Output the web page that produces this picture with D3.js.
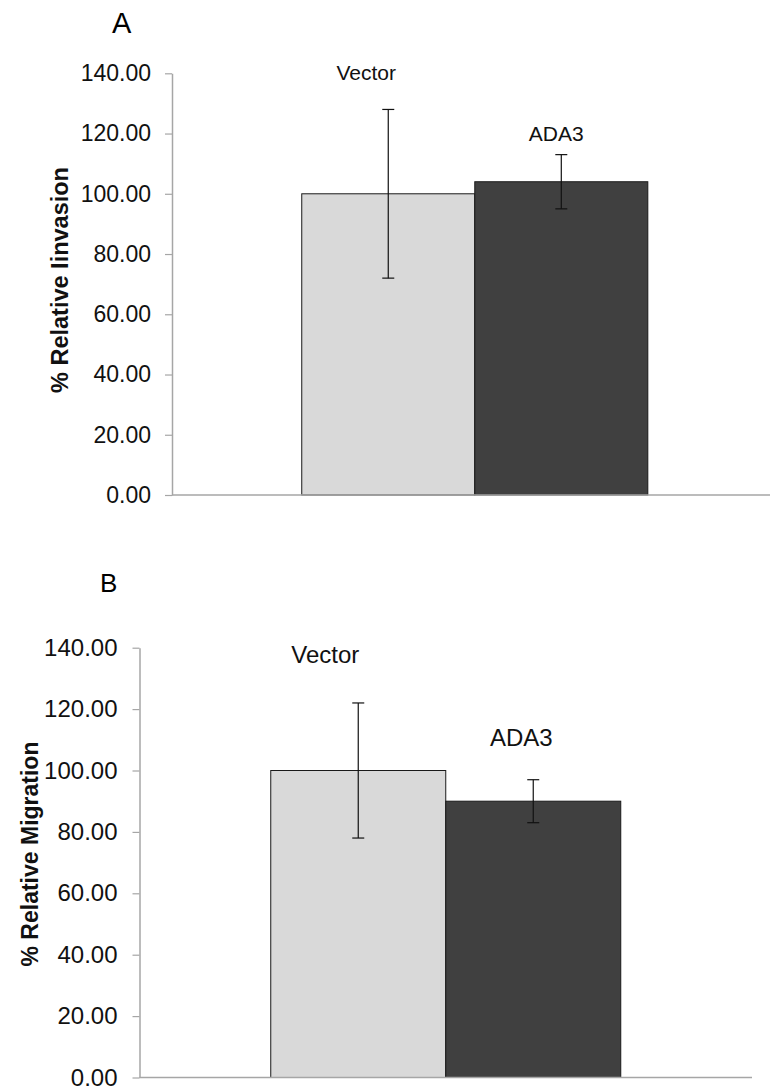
<!DOCTYPE html>
<html>
<head>
<meta charset="utf-8">
<script src="https://cdn.jsdelivr.net/npm/d3@7"></script>
<style>
  body { margin: 0; background: #fff; }
  svg { display: block; font-family: "Liberation Sans", Arial, sans-serif; }
</style>
</head>
<body>
<div id="chart"></div>
<script>
// data
var groups = ["Vector", "ADA3"];
var invasionMean = [100, 104];
var invasionErr = [28, 9];
var migrationMean = [100, 90];
var migrationErr = [22, 7];
var yTicks = [0, 20, 40, 60, 80, 100, 120, 140];
var barColors = ["#d9d9d9", "#404040"];

var svg = d3.select("#chart").append("svg")
    .attr("width", 770)
    .attr("height", 1091);

// one panel = one excel-ish bar chart
function drawPanel(p) {
    var y = d3.scaleLinear().domain([0, 140]).range([p.bottom, p.top]);
    var x = d3.scaleBand().domain(groups)
        .range([p.left, p.right])
        .paddingInner(0)
        .paddingOuter(p.outer)
        .align(p.align);

    var g = svg.append("g");

    // panel letter
    g.append("text")
        .attr("x", p.letterX).attr("y", p.letterY)
        .style("font-size", p.letterSize + "px")
        .text(p.letter);

    // bars
    g.selectAll("rect.bar")
        .data(groups)
        .enter()
        .append("rect")
        .attr("class", "bar")
        .attr("x", function (d) { return x(d); })
        .attr("y", function (d, i) { return y(p.mean[i]); })
        .attr("width", x.bandwidth())
        .attr("height", function (d, i) { return y(0) - y(p.mean[i]); })
        .style("fill", function (d, i) { return barColors[i]; })
        .style("stroke", "#1a1a1a")
        .style("stroke-width", 1);

    // y axis
    var yAxis = d3.axisLeft(y)
        .tickValues(yTicks)
        .tickSize(7)
        .tickSizeOuter(0)
        .tickPadding(p.tickPad)
        .tickFormat(d3.format(".2f"));

    var ya = g.append("g")
        .attr("transform", "translate(" + p.left + ",0)")
        .call(yAxis);
    ya.select(".domain").style("stroke", "#a6a6a6").style("stroke-width", 1.5);
    ya.selectAll(".tick line").style("stroke", "#a6a6a6").style("stroke-width", 1.2);
    ya.selectAll(".tick text")
        .style("font-family", "'Liberation Sans', Arial, sans-serif")
        .style("font-size", p.tickSize + "px")
        .style("fill", "#111");

    // x axis line (no ticks)
    g.append("line")
        .attr("x1", p.left).attr("x2", p.axisEnd)
        .attr("y1", y(0)).attr("y2", y(0))
        .style("stroke", "#a6a6a6")
        .style("stroke-width", 1.5);

    // error bars
    var cap = 6;
    var eb = g.selectAll("g.err")
        .data(groups)
        .enter()
        .append("g")
        .attr("class", "err");
    eb.each(function (d, i) {
        var cx = x(d) + x.bandwidth() / 2;
        var hi = y(p.mean[i] + p.err[i]);
        var lo = y(p.mean[i] - p.err[i]);
        var e = d3.select(this);
        e.append("line").attr("x1", cx).attr("x2", cx).attr("y1", hi).attr("y2", lo);
        e.append("line").attr("x1", cx - cap).attr("x2", cx + cap).attr("y1", hi).attr("y2", hi);
        e.append("line").attr("x1", cx - cap).attr("x2", cx + cap).attr("y1", lo).attr("y2", lo);
    });
    eb.selectAll("line").style("stroke", "#111").style("stroke-width", 1.2);

    // group labels floating above the bars
    g.selectAll("text.lab")
        .data(groups)
        .enter()
        .append("text")
        .attr("class", "lab")
        .attr("x", function (d, i) { return x(d) + x.bandwidth() / 2 + p.labDx[i]; })
        .attr("y", function (d, i) { return y(p.labAt[i]); })
        .attr("text-anchor", "middle")
        .style("font-size", p.labSize + "px")
        .style("fill", "#111")
        .text(function (d) { return d; });

    // y title
    g.append("text")
        .attr("transform", "translate(" + p.titleX + "," + p.titleY + ") rotate(-90)")
        .attr("text-anchor", "middle")
        .style("font-size", p.titleSize + "px")
        .style("font-weight", "bold")
        .style("fill", "#111")
        .text(p.title);
}

drawPanel({
    letter: "A", letterX: 112, letterY: 33, letterSize: 29,
    top: 73.3, bottom: 495, left: 172, right: 770, axisEnd: 770,
    outer: 0.728, align: 0.515,
    mean: invasionMean, err: invasionErr,
    tickPad: 14, tickSize: 23,
    labDx: [-22, -5], labAt: [137.7, 117.6], labSize: 21,
    title: "% Relative Iinvasion", titleX: 68, titleY: 280, titleSize: 23.5
});

drawPanel({
    letter: "B", letterX: 100, letterY: 592, letterSize: 26,
    top: 647.7, bottom: 1077.5, left: 139.5, right: 752, axisEnd: 752,
    outer: 0.75, align: 0.5,
    mean: migrationMean, err: migrationErr,
    tickPad: 15, tickSize: 24,
    labDx: [-33, -12], labAt: [134.9, 108], labSize: 24,
    title: "% Relative Migration", titleX: 38, titleY: 854, titleSize: 23
});
</script>
</body>
</html>
